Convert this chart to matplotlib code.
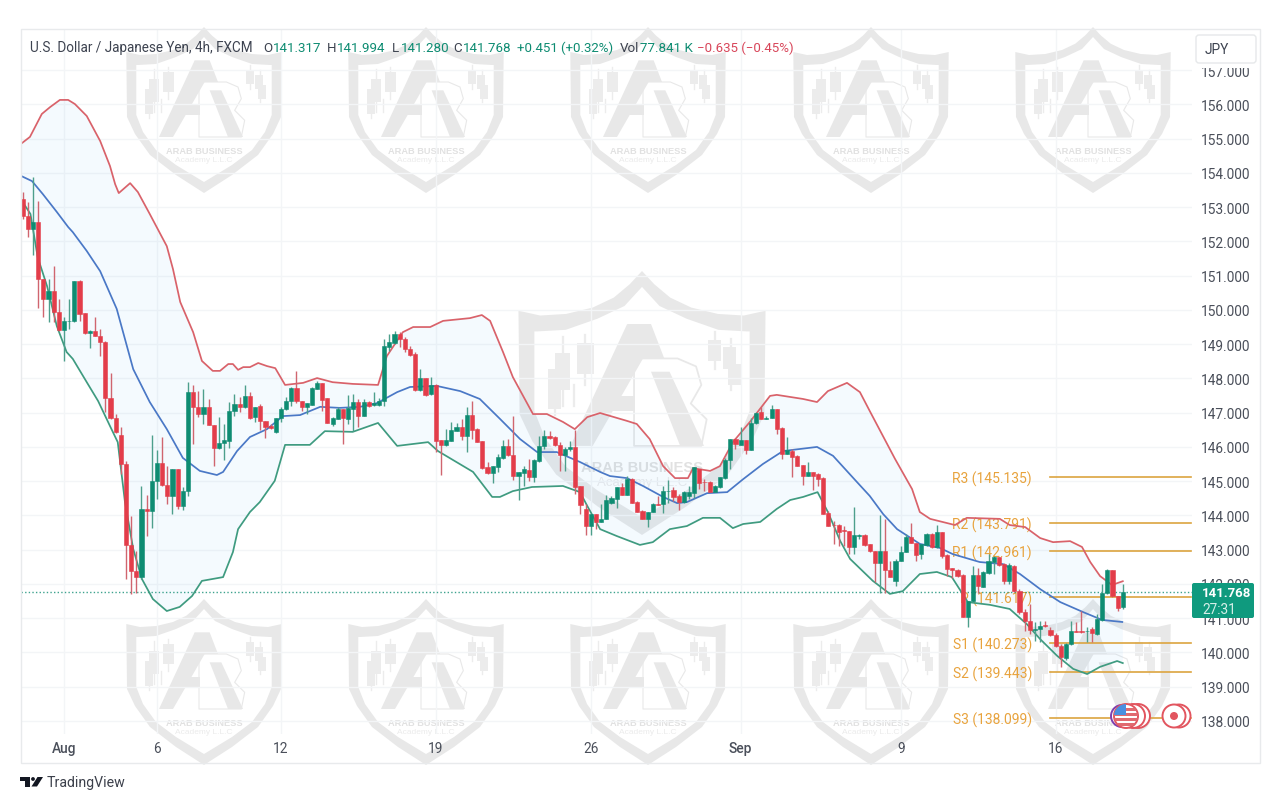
import numpy as np
import matplotlib
matplotlib.use("Agg")
import matplotlib.pyplot as plt
from matplotlib.patches import PathPatch, Polygon, Rectangle, Circle, FancyBboxPatch
from matplotlib.path import Path

# ---------- data (prices) ----------
OPEN = [153.24,152.73,152.36,152.56,150.90,150.32,150.56,149.93,149.42,149.67,
149.69,150.85,149.90,149.32,149.37,149.25,149.07,147.42,146.84,146.35,
145.50,143.15,142.37,142.19,144.19,144.12,145.01,145.52,144.90,144.58,
145.37,144.27,144.72,147.61,147.16,146.96,147.16,146.65,145.96,146.11,
146.18,147.04,147.25,147.18,147.48,146.87,147.20,146.77,146.62,146.44,
146.84,147.11,147.35,147.71,147.35,147.18,147.23,147.69,147.86,147.42,
146.67,146.81,147.11,146.81,147.11,147.32,146.91,147.32,147.22,147.22,
147.35,148.93,149.02,149.30,149.15,148.86,148.71,147.66,148.00,147.54,
147.82,146.20,146.06,146.17,146.47,146.57,146.31,146.93,146.52,146.17,
145.40,145.23,145.42,145.68,146.02,145.77,145.16,145.24,145.34,145.11,
145.60,146.04,146.33,146.28,146.06,145.75,145.94,145.99,144.85,144.19,
143.70,144.04,143.82,143.91,144.36,144.48,144.84,144.60,145.06,144.40,
144.14,143.89,144.09,144.33,144.33,144.70,144.74,144.57,144.38,144.57,
144.65,145.37,144.99,144.99,144.67,144.82,145.09,145.62,146.23,146.06,
146.20,145.92,146.69,147.01,146.82,146.83,147.10,146.54,145.79,145.89,
145.74,145.47,145.14,145.26,145.21,145.08,144.07,143.73,143.72,143.57,
143.55,143.07,143.41,143.43,143.17,142.97,142.61,142.97,142.42,142.10,
142.68,142.94,143.38,143.21,142.86,143.14,143.46,143.07,143.51,142.85,
142.46,142.41,142.27,141.05,141.51,142.27,141.92,142.32,142.65,142.78,
142.58,142.08,142.53,141.80,141.17,140.93,140.67,140.69,140.80,140.65,
140.52,140.20,139.84,140.25,140.63,140.63,140.62,140.68,140.54,140.96,
141.74,142.41,141.64,141.317]
HIGH = [153.43,153.14,153.88,153.19,150.90,150.90,151.27,150.32,149.78,150.32,
150.85,150.87,149.90,149.42,149.78,149.44,149.10,148.16,146.96,146.57,
145.60,143.99,142.97,144.87,144.60,146.35,145.92,146.28,145.43,145.37,
145.37,144.82,147.90,147.81,147.64,147.69,147.40,146.65,146.86,146.67,
147.30,147.54,147.45,147.82,147.59,147.18,147.25,146.77,146.67,146.84,
147.17,147.45,147.74,148.21,147.35,147.27,147.76,147.93,147.86,147.42,
146.86,147.16,147.11,147.52,147.54,147.40,147.40,147.35,147.59,147.42,
149.15,149.30,149.39,149.35,149.20,148.96,148.76,148.27,148.00,148.03,
147.84,146.20,146.52,146.72,146.70,146.81,147.16,147.35,146.54,146.17,
145.55,145.43,145.79,146.21,146.23,146.91,145.26,145.45,145.65,145.65,
146.33,146.50,146.47,146.33,146.13,145.99,146.18,146.50,144.85,144.33,
144.04,144.04,144.33,144.59,144.57,144.84,144.96,145.14,145.08,144.43,
144.16,144.09,144.36,144.57,144.87,145.04,144.82,144.62,144.72,144.87,
145.40,145.37,145.06,145.01,144.89,145.11,145.69,146.23,146.25,146.59,
146.20,146.83,147.01,147.18,146.91,147.22,147.12,146.57,146.28,145.94,
145.76,145.47,145.55,145.26,145.24,145.11,144.14,143.84,143.75,143.70,
143.55,144.24,143.46,143.46,143.17,142.97,144.02,143.90,142.68,142.73,
143.10,143.46,143.78,143.21,143.17,143.49,143.49,143.72,143.51,142.87,
142.48,142.44,142.29,141.51,142.51,142.48,142.39,142.87,142.83,142.78,
142.61,142.61,142.55,141.85,141.27,141.41,140.88,140.93,140.93,140.73,
140.57,140.25,140.27,140.91,140.88,141.20,140.73,140.73,141.12,141.99,
142.44,142.41,141.66,141.994]
LOW = [152.65,152.12,151.60,150.07,149.78,149.64,149.64,149.39,148.52,149.44,
149.64,149.68,149.30,148.89,149.23,148.66,147.01,146.81,146.41,145.21,
142.14,141.71,141.75,142.14,143.39,143.62,144.48,144.87,144.33,144.04,
144.19,144.15,144.58,146.08,146.86,146.67,146.65,145.43,145.94,145.63,
145.96,146.89,147.01,147.15,146.81,146.74,146.50,146.25,146.52,146.42,
146.72,147.09,147.20,147.28,147.04,146.96,147.22,147.69,147.06,146.70,
146.62,146.81,146.09,146.67,146.47,146.57,146.89,147.16,147.19,147.19,
147.19,148.81,149.00,148.91,148.76,148.66,147.64,147.64,147.50,147.53,
145.86,145.19,146.04,146.17,146.46,146.21,145.84,146.23,146.13,145.36,
145.21,144.94,145.26,145.65,145.74,145.03,144.46,144.87,145.00,144.97,
145.55,145.94,146.23,146.02,145.29,145.29,145.89,144.63,144.04,143.44,
143.44,143.60,143.82,143.91,144.33,144.23,144.60,144.60,144.36,144.11,
143.89,143.67,144.09,144.30,144.07,144.36,144.43,144.17,144.36,144.48,
144.50,144.77,144.72,144.67,144.67,144.79,145.06,145.35,145.94,146.06,
145.79,145.92,146.67,146.81,146.81,146.83,146.37,145.65,145.79,145.11,
145.43,144.90,145.14,144.75,144.87,144.04,143.70,143.16,143.11,143.11,
142.87,142.87,143.31,143.12,142.92,142.05,141.75,141.75,142.19,141.95,
142.66,142.92,143.20,142.66,142.73,143.12,143.05,143.04,142.75,142.22,
142.17,142.19,141.05,140.73,141.46,141.75,141.90,142.29,142.29,142.53,
142.00,142.00,141.77,141.12,140.64,140.54,140.34,140.30,140.73,140.49,
140.15,139.57,139.78,140.23,140.59,140.57,140.32,140.32,140.51,140.93,
141.71,141.61,141.22,141.280]
CLOSE = [152.73,152.36,152.56,150.90,150.32,150.56,149.93,149.42,149.67,149.69,
150.85,149.88,149.32,149.39,149.25,149.07,147.42,146.84,146.44,145.50,
143.15,142.37,142.19,144.19,144.12,145.01,145.52,144.90,144.58,145.37,
144.27,144.72,147.61,147.16,146.96,147.16,146.65,145.96,146.11,146.20,
147.06,147.25,147.18,147.50,146.84,147.18,146.77,146.59,146.54,146.84,
147.11,147.35,147.71,147.35,147.18,147.27,147.72,147.86,147.38,146.70,
146.83,147.11,146.83,147.13,147.32,146.91,147.32,147.19,147.28,147.35,
148.96,149.05,149.30,149.15,148.86,148.69,147.66,148.00,147.52,147.82,
146.16,146.06,146.20,146.50,146.57,146.31,146.93,146.50,146.15,145.38,
145.23,145.43,145.70,146.02,145.76,145.16,145.26,145.36,145.11,145.63,
146.04,146.33,146.25,146.06,145.75,145.94,146.01,144.84,144.30,143.70,
144.04,143.82,143.91,144.46,144.50,144.84,144.60,145.06,144.36,144.11,
143.89,144.09,144.33,144.31,144.72,144.72,144.55,144.38,144.67,144.69,
145.40,144.96,144.97,144.67,144.85,145.11,145.62,146.23,146.08,146.20,
145.92,146.70,146.98,146.81,146.84,147.10,146.52,145.79,145.91,145.72,
145.43,145.16,145.26,145.16,145.06,144.04,143.70,143.71,143.52,143.55,
143.07,143.43,143.43,143.14,142.97,142.61,142.97,142.42,142.21,142.68,
142.94,143.38,143.21,142.84,143.17,143.46,143.07,143.51,142.83,142.44,
142.41,142.24,141.05,141.51,142.27,141.93,142.34,142.68,142.78,142.55,
142.08,142.55,141.80,141.17,140.93,140.67,140.69,140.78,140.77,140.51,
140.20,139.86,140.25,140.62,140.60,140.59,140.64,140.56,140.98,141.74,
142.41,141.64,141.30,141.768]

UP_X = [-0.4,1.4,3.7,5.3,7.2,8.8,10.1,12.4,15,16.9,17.9,18.6,20.8,22.3,24.6,27.9,29.1,30.5,33,34.7,
36.8,38.2,39.8,40.7,41.7,42.7,44,45.6,47.3,48.9,50.8,54.3,57,60,63.9,68.8,70.5,73.6,75.6,78.9,
81.4,86.6,88.9,90.5,93,94.9,98.8,101.5,104.6,106.9,109.3,111.8,117,118.9,121.4,124,126.3,128.8,129.8,133.1,
135,137.5,140.8,144.7,146,151.1,153.8,155.9,159.6,162.1,164,168.9,172.2,173.7,175.7,180.5,182.8,189.2,191.1,194.1,
197,199.5,202.8,205.1,206.7,208.6,210.9,213]
UP_Y = [154.84,155.05,155.72,155.92,156.13,156.13,156.01,155.66,154.93,154.20,153.67,153.41,153.70,153.44,152.80,151.86,151.19,150.23,149.35,148.51,
148.22,148.22,148.42,148.42,148.25,148.33,148.33,148.45,148.36,148.30,147.81,147.87,148.01,147.89,147.84,147.81,148.65,149.35,149.50,149.50,
149.68,149.76,149.85,149.68,148.77,148.04,146.96,146.96,146.73,146.52,146.87,146.99,146.76,146.67,146.23,145.44,145.09,145.09,145.38,145.30,
145.44,146.14,146.73,147.49,147.52,147.40,147.31,147.63,147.87,147.60,147.05,145.65,144.77,144.10,143.90,143.72,143.93,143.90,143.72,143.66,
143.34,143.22,143.25,143.08,142.64,142.23,141.97,142.08]
MID_X = [-0.3,1.8,3.9,6.6,8.8,9.7,12.4,15,18.2,21.4,24.6,27.9,31,34.3,37.6,38.8,41.5,44,47.3,50.4,53.7,57.6,61.4,65.3,68.6,72.5,75,80.2,84.7,88.5,92.4,96.3,99.6,103.4,107.9,111.8,113.7,117,120.1,124,126.7,128.6,132.5,136.4,139.5,143.3,147.2,153.8,156.9,161.5,164,166.6,169.3,173.7,177.6,180.1,185.3,189.8,193.1,197,200.9,205.3,209,212.9]
MID_Y = [153.91,153.76,153.38,152.86,152.42,152.27,151.72,151.13,150.03,148.27,147.31,146.52,145.68,145.30,145.18,145.27,145.88,146.29,146.52,146.90,146.93,147.17,147.14,147.17,147.28,147.60,147.75,147.78,147.63,147.40,146.82,146.23,145.85,145.85,145.56,145.27,145.15,145.09,144.86,144.54,144.36,144.39,144.65,144.68,145.06,145.50,145.88,146.00,145.74,144.98,144.57,144.04,143.60,143.17,143.05,142.87,142.64,142.58,142.29,141.85,141.47,141.18,140.95,140.89]
LOW_X = [-0.4,1.5,2.9,4.7,6.6,8.5,9.7,12.4,14.6,16.9,18.4,19.8,21.4,23.1,25.2,27.9,30.4,32.8,34.7,38.8,40.7,41.7,44,45.9,48.8,50.8,55.6,58.5,63.9,68.8,72.5,78.5,80.4,87.2,90.9,92.4,94.9,98.6,104.6,107.9,109.3,111.8,115,119.5,122,125.3,128.6,131.7,135,137.5,139.5,142.8,146,148.6,151.1,153.9,155.9,158.3,160.2,164.6,167.9,170.4,173.7,177,179.9,183,187.3,191.1,194.4,197,200.3,203.4,206.1,208.6,211.9,213]
LOW_Y = [153.24,152.80,151.54,150.70,149.53,148.77,148.57,147.89,147.34,146.61,146.14,144.39,143.02,142.14,141.56,141.21,141.33,141.65,142.09,142.20,142.93,143.60,144.10,144.39,145.01,146.06,146.06,146.46,146.44,146.70,146.03,146.14,145.88,145.27,144.54,144.54,144.71,144.83,144.86,144.68,144.28,143.60,143.40,143.14,143.22,143.60,143.69,143.93,143.93,143.63,143.75,143.81,144.19,144.45,144.54,144.68,144.10,143.25,142.73,142.09,141.71,141.79,142.29,142.35,142.20,141.47,141.39,141.27,140.83,140.39,139.90,139.52,139.37,139.58,139.75,139.69]

PIVOT_NAMES = ["R3","R2","R1","P","S1","S2","S3"]
PIVOT_VALUES = [145.135,143.791,142.961,141.617,140.273,139.443,138.099]
PRICE_TICKS = list(range(138,158))
DATE_POS = [8,26,50,80,110,139,170,200]
DATE_LABELS = ["Aug","6","12","19","26","Sep","9","16"]
LAST_PRICE = 141.768

RED="#e33d4a"; GREEN="#0e8c72"; ORANGE="#e8a33d"; WM="#e8e8e8"; WM2="#e1e1e1"
TXT="#3d4350"; TICK="#4a4f5a"; GRID="#f3f5f7"
FONT="Roboto"
plt.rcParams['font.family']=[FONT,'DejaVu Sans']

W,H=1280,803
fig=plt.figure(figsize=(W/100,H/100),dpi=100,facecolor="white")

# ---------- background layer in picture pixels: watermarks ----------
bg=fig.add_axes([0,0,1,1],zorder=0); bg.set_xlim(0,W); bg.set_ylim(H,0); bg.axis("off")

OUT_L=[(0,0),(-7.7,8.3),(-17.7,16.7),(-31,23),(-47.7,27),(-64,28),(-77.7,25),(-77,90),(-69,107),(-54,128),(-28,148),(0,166)]
IN_L=[(0,10),(-11,22),(-28,30),(-48,37),(-66,38),(-67.7,38),(-67.7,88),(-61,105),(-48,123),(-28,138),(0,155)]
def z(p): return ((p[0]-283)/3,p[1]/3)
def watermark(cx,top,s=1.0):
    P=lambda d:(cx+d[0]*s,top+d[1]*s)
    outer=[P(d) for d in OUT_L]+[P((-d[0],d[1])) for d in OUT_L[-2:0:-1]]
    inner=[P(d) for d in IN_L]+[P((-d[0],d[1])) for d in IN_L[-2:0:-1]]
    verts=outer+[outer[0]]+inner[::-1]+[inner[-1]]
    codes=[Path.MOVETO]+[Path.LINETO]*(len(outer)-1)+[Path.CLOSEPOLY]+[Path.MOVETO]+[Path.LINETO]*(len(inner)-1)+[Path.CLOSEPOLY]
    bg.add_patch(PathPatch(Path(verts,codes),fc=WM,ec="none"))
    polys=[[(148,330),(255,100),(285,165),(190,330)],
           [(213,235),(270,235),(270,265),(198,265)],
           [(255,100),(300,100),(325,165),(270,165)],
           [(300,190),(335,190),(400,330),(355,330)]]
    for q in polys:
        bg.add_patch(Polygon([P(z(a)) for a in q],fc=WM,ec="none"))
    b=[(268,165),(350,165),(385,180),(395,215),(375,250),(405,280),(395,330),(268,330),(268,165)]
    xs,ys=zip(*[P(z(a)) for a in b]); bg.plot(xs,ys,color=WM,lw=0.8*s)
    for x0,y0,x1,y1 in [(105,185,130,260),(118,155,147,225),(160,135,192,195),(408,130,432,170),(435,143,460,185),(445,175,470,215)]:
        a=P(z((x0,y0))); c=P(z((x1,y1)))
        bg.add_patch(Rectangle(a,c[0]-a[0],c[1]-a[1],fc="#ececec",ec="none"))
    for x,y0,y1 in [(118,260,272),(133,125,255),(155,215,255),(176,120,215),(420,115,185),(450,128,225)]:
        a=P(z((x,y0))); c=P(z((x,y1))); bg.plot([a[0],c[0]],[a[1],c[1]],color="#ececec",lw=1*s)
    a=P((0,123.5)); bg.text(a[0],a[1],"ARAB BUSINESS",ha="center",va="center",fontsize=6.7*s,fontweight="bold",color=WM2,family="Liberation Sans")
    a=P((0,132.5)); bg.text(a[0],a[1],"Academy L.L.C",ha="center",va="center",fontsize=6.0*s,color="#ebebeb",family="Liberation Sans")
for top in (28,600):
    for cx in (204,426,648,871,1093):
        watermark(cx,top)
watermark(642,272,1.59)

# ---------- main chart ----------
AX_L,AX_R,AX_T,AX_B=21,1192,30,735
ax=fig.add_axes([AX_L/W,1-AX_B/H,(AX_R-AX_L)/W,(AX_B-AX_T)/H],zorder=1)
ax.patch.set_visible(False)
ax.set_xlim(-0.33,226.4)
ax.set_ylim(137.62,158.2)
for s in ax.spines.values(): s.set_visible(False)
ax.yaxis.tick_right()
ax.set_yticks(PRICE_TICKS); ax.set_yticklabels([f"{v}.000" for v in PRICE_TICKS])
ax.set_xticks(DATE_POS); ax.set_xticklabels(DATE_LABELS)
ax.tick_params(axis="both",length=0,labelsize=9.9,labelcolor=TICK)
ax.tick_params(axis="y",pad=6.5)
ax.tick_params(axis="x",pad=5)
for t,l in zip(ax.get_xticklabels(),DATE_LABELS):
    if l in("Aug","Sep"): t.set_fontweight("medium")
ax.grid(True,color=GRID,lw=1); ax.set_axisbelow(True)

# Bollinger band
fx=np.r_[UP_X,LOW_X[::-1]]; fy=np.r_[UP_Y,LOW_Y[::-1]]
ax.fill(fx,fy,color="#2196f3",alpha=0.047,lw=0,zorder=1.5)

# pivots
for n,v in zip(PIVOT_NAMES,PIVOT_VALUES):
    ax.plot([199,226.2],[v,v],color="#dca43f",lw=1.2,zorder=2)
    ax.annotate(f"{n} ({v:.3f})",xy=(0,v),xycoords=("axes fraction","data"),xytext=(1032-AX_L,-1.5),textcoords="offset pixels",
                ha="right",va="center",fontsize=10,color=ORANGE,zorder=2)

ax.axhline(LAST_PRICE,color=GREEN,lw=1,ls=(0,(1,1.6)),zorder=2.2,alpha=0.8)

ax.plot(UP_X,UP_Y,color="#d9626a",lw=1.25,zorder=3)
ax.plot(MID_X,MID_Y,color="#4a78c6",lw=1.25,zorder=3)
ax.plot(LOW_X,LOW_Y,color="#3f9b80",lw=1.25,zorder=3)

# candles
o,h,l,c=map(np.array,(OPEN,HIGH,LOW,CLOSE))
x=np.arange(len(o))
cols=np.where(c>=o,GREEN,RED)
wick=np.where(c>=o,"#4d9f8c","#d0656f")
ax.vlines(x,l,h,colors=wick,lw=1,zorder=4)
ax.bar(x,np.abs(c-o),bottom=np.minimum(o,c),width=0.8,color=cols,lw=0.4,edgecolor=cols,zorder=5)

# ---------- overlay in picture pixels ----------
ov=fig.add_axes([0,0,1,1],zorder=5); ov.set_xlim(0,W); ov.set_ylim(H,0); ov.axis("off"); ov.patch.set_visible(False)
ov.add_patch(Rectangle((21,30),1239,734,fc="none",ec="#e8eaec",lw=1))

HEAD=[(30,"U.S. Dollar / Japanese Yen, 4h, FXCM",TXT,9.75),(263,"O",TXT,9.6),(273,"141.317",GREEN,9.6),(327,"H",TXT,9.6),(337,"141.994",GREEN,9.6),
      (392,"L",TXT,9.6),(401,"141.280",GREEN,9.6),(453,"C",TXT,9.6),(463,"141.768",GREEN,9.6),(517,"+0.451 (+0.32%)",GREEN,9.5),(620,"Vol",TXT,9.6),
      (640,"77.841 K",GREEN,9.6),(697,"\u22120.635 (\u22120.45%)","#d8465a",9.5)]
for xp,s,col,fs in HEAD:
    ov.text(xp,48,s,ha="left",va="center",fontsize=fs,color=col)

ov.add_patch(Rectangle((1194,35),64,34,fc="white",ec="none"))
ov.add_patch(FancyBboxPatch((1196,36),60,28,boxstyle="round,pad=0,rounding_size=3",fc="white",ec="#e6e8ea",lw=1))
ov.text(1205,49.5,"JPY",ha="left",va="center",fontsize=9.8,color=TXT)

ov.add_patch(FancyBboxPatch((1192,584),62,35,boxstyle="round,pad=0,rounding_size=2",fc="#0f9a7e",ec="none"))
ov.text(1202,594,"141.768",ha="left",va="center",fontsize=9.5,color="white",fontweight="bold")
ov.text(1202,610,"27:31",ha="left",va="center",fontsize=9.8,color="#d5efe8")

# event markers
ER="#e2555f"
ov.add_patch(Circle((1122,717),11,fc="white",ec="#7d3fb0",lw=1.4))
for cxp in (1138,1133):
    ov.add_patch(Circle((cxp,717),12,fc="white",ec=ER,lw=1.4))
fc=Circle((1126,717),12,fc="white",ec=ER,lw=1.4); ov.add_patch(fc)
for yy in (709,714,719,724):
    r=Rectangle((1114,yy),24,2.5,fc="#e06a70",ec="none"); ov.add_patch(r); r.set_clip_path(fc)
r=Rectangle((1114,705),12,11,fc="#4a8fe0",ec="none"); ov.add_patch(r); r.set_clip_path(fc)
ov.add_patch(Circle((1179,717),11.5,fc="white",ec=ER,lw=1.4))
ov.add_patch(Circle((1174,717),11.5,fc="white",ec=ER,lw=1.4))
ov.add_patch(Circle((1174,717),4,fc=ER,ec="none"))

# TradingView footer
ov.add_patch(Rectangle((20,778),10,3.6,fc="#131722",ec="none"))
ov.add_patch(Rectangle((24.5,778),5.5,9.5,fc="#131722",ec="none"))
ov.add_patch(Circle((33,780),1.9,fc="#131722",ec="none"))
ov.add_patch(Polygon([(37.5,778),(43,778),(37,787.5),(31.5,787.5)],fc="#131722",ec="none"))
ov.text(47,783.5,"TradingView",ha="left",va="center",fontsize=10.2,color="#3c404b")

fig.savefig("out.png",dpi=100,facecolor="white")
